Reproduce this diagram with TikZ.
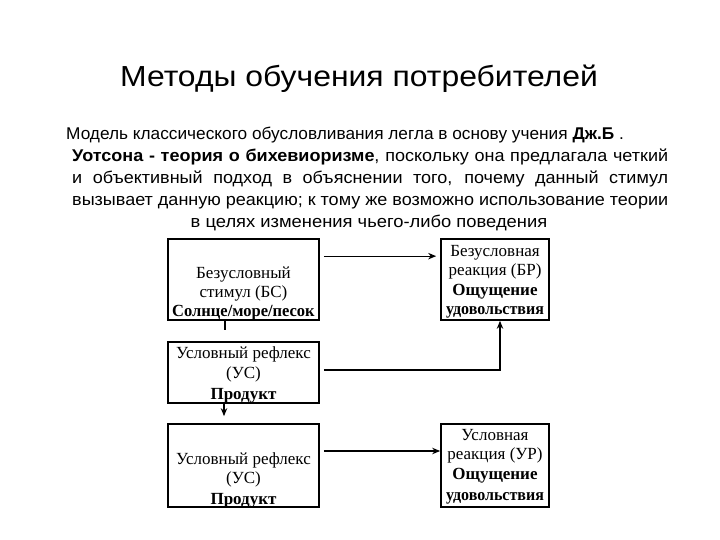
\documentclass[tikz,border=0pt]{standalone}
\usepackage{fontspec}
\usepackage{graphicx}
\setmainfont{Liberation Serif}
\newfontfamily\parafont{Liberation Sans}
\newfontfamily\parafontw{Liberation Sans}[FakeStretch=1.06]
\newfontfamily\parafontc{Liberation Sans}[FakeStretch=1.08]
\newfontfamily\titlefont{Liberation Sans}[FakeStretch=1.1]
\usetikzlibrary{arrows.meta,calc}
\begin{document}
\begin{tikzpicture}[x=1pt,y=-1pt,
  box/.style={draw=black,line width=1.7pt,rectangle,inner sep=0pt},
  boxtext/.style={align=center,inner sep=0pt,font=\fontsize{17}{19.5}\selectfont},
  para/.style={inner sep=0pt,anchor=base west,font=\parafontw\fontsize{17}{20}\selectfont},
  conn/.style={line width=1.2pt},
  arr/.style={line width=1.2pt,-{Stealth[length=8pt,width=6.5pt]}}]
\useasboundingbox[fill=white] (0,0) rectangle (720,540);
% title
\node[inner sep=0pt,anchor=base,font=\titlefont\fontsize{29}{32}\selectfont] (title) at (359,87) {Методы обучения потребителей};
% paragraph
\node[para,font=\parafont\fontsize{17}{20}\selectfont] (p1) at (66,140) {\scalebox{1.015}[1]{Модель классического обусловливания легла в основу учения \textbf{Дж.Б} .}};
\node[para] (p2) at (72,162) {\makebox[596pt][s]{\textbf{Уотсона - теория о бихевиоризме}, поскольку она предлагала четкий}};
\node[para] (p3) at (72,184) {\makebox[596pt][s]{и объективный подход в объяснении того, почему данный стимул}};
\node[para] (p4) at (72,206) {\makebox[596pt][s]{вызывает данную реакцию; к тому же возможно использование теории}};
\node[para,anchor=base,font=\parafontc\fontsize{17}{20}\selectfont] (p5) at (369,228) {в целях изменения чьего-либо поведения};
% boxes
\node[box,minimum width=151pt,minimum height=81pt] (b1) at (243.5,279.5) {};
\node[box,minimum width=108pt,minimum height=81pt] (b2) at (495,279.5) {};
\node[box,minimum width=151pt,minimum height=61pt] (b3) at (243.5,372.5) {};
\node[box,minimum width=151pt,minimum height=83pt] (b4) at (243.5,465.5) {};
\node[box,minimum width=108pt,minimum height=83pt] (b5) at (495,465.5) {};
% box texts
\node[boxtext] (t1) at (243.5,293) {Безусловный\\стимул (БС)\\[-1pt]\scalebox{0.97}[1]{\textbf{Солнце/море/песок}}};
\node[boxtext] (t2) at (495,282) {Безусловная\\реакция (БР)\\\textbf{Ощущение}\\\scalebox{0.94}[1]{\textbf{удовольствия}}};
\node[boxtext] (t3) at (243.5,375) {Условный рефлекс\\(УС)\\[2pt]\textbf{Продукт}};
\node[boxtext] (t4) at (243.5,480) {Условный рефлекс\\(УС)\\[1pt]\textbf{Продукт}};
\node[boxtext] (t5) at (495,467) {Условная\\реакция (УР)\\\textbf{Ощущение}\\[2pt]\scalebox{0.94}[1]{\textbf{удовольствия}}};
% connectors
\draw[arr] ([shift={(4pt,-18pt)}]b1.north east) -- ([shift={(-4pt,-18pt)}]b2.north west);
\draw[conn,shorten >=11pt] ([xshift=-18.5pt]b1.south) -- ([xshift=-18.5pt]b3.north);
\draw[arr,shorten >=7pt] ([xshift=-19.5pt]b3.south) -- ([xshift=-19.5pt]b4.north);
\draw[arr] ([shift={(4pt,2.5pt)}]b3.east) -| ([xshift=5pt]b2.south);
\draw[arr] ([shift={(4pt,14.5pt)}]b4.east) -- ([yshift=14.5pt]b5.west);
\end{tikzpicture}
\end{document}
